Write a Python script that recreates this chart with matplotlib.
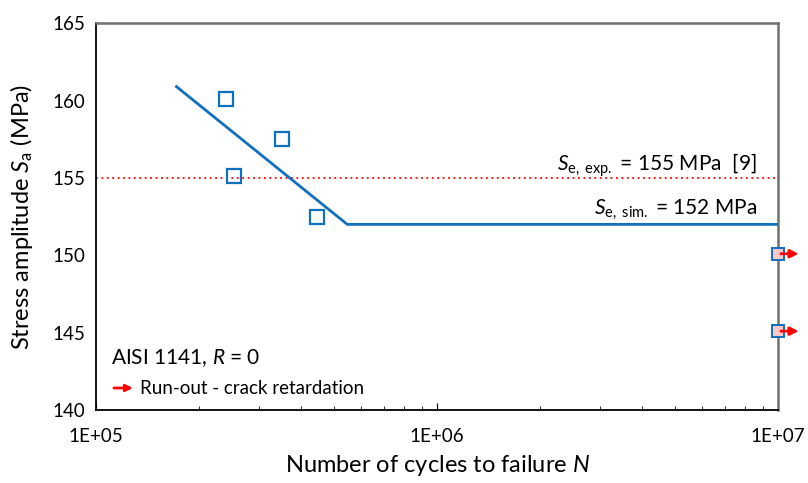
import matplotlib.pyplot as plt
import numpy as np

# experimental data points (cycles, stress amplitude)
exp_N = [2.41e5, 2.53e5, 3.50e5, 4.44e5]
exp_S = [160.1, 155.1, 157.5, 152.5]

# run-outs
runout_N = [1e7, 1e7]
runout_S = [150.1, 145.1]

# simulated S-N curve
sim_N = [1.72e5, 5.45e5, 1e7]
sim_S = [160.9, 152.0, 152.0]

S_exp = 155
S_sim = 152

blue = '#1070c0'
font_size = 13.5

plt.rcParams['font.family'] = ['Lato', 'DejaVu Sans']
plt.rcParams['mathtext.fontset'] = 'custom'
plt.rcParams['mathtext.it'] = 'Lato:italic'
plt.rcParams['mathtext.rm'] = 'Lato'

fig = plt.figure(figsize=(8.08, 4.83), dpi=100)
ax = fig.add_axes([0.119, 0.151, 0.844, 0.801])

ax.plot(sim_N, sim_S, color=blue, linewidth=2, zorder=3)
ax.axhline(S_exp, color='red', linestyle=(0, (1, 2)), linewidth=1.3, zorder=2)
ax.plot(exp_N, exp_S, linestyle='none', marker='s', markersize=10,
        markerfacecolor='none', markeredgecolor=blue, markeredgewidth=1.6, zorder=4)
ax.plot(runout_N, runout_S, linestyle='none', marker='s', markersize=9,
        markerfacecolor='#f8c8c8', markeredgecolor=blue, markeredgewidth=1.4,
        zorder=5, clip_on=False)
for n, s in zip(runout_N, runout_S):
    ax.annotate('', xy=(n * 1.17, s), xytext=(n, s),
                arrowprops=dict(arrowstyle='-|>', color='red', lw=2, mutation_scale=12),
                annotation_clip=False, zorder=6)

ax.set_xscale('log')
ax.set_xlim(1e5, 1e7)
ax.set_ylim(140, 165)
ax.set_xticks([1e5, 1e6, 1e7])
ax.set_xticklabels(['1E+05', '1E+06', '1E+07'])
ax.set_yticks(np.arange(140, 166, 5))

ax.tick_params(axis='both', which='both', direction='in', labelsize=font_size,
               top=False, right=False, colors='black')
ax.tick_params(axis='x', which='major', length=5, pad=13)
ax.tick_params(axis='x', which='minor', length=3)
ax.tick_params(axis='y', which='major', length=0, pad=8)

for side in ['top', 'right']:
    ax.spines[side].set_color('#707070')
    ax.spines[side].set_linewidth(1.8)
for side in ['left', 'bottom']:
    ax.spines[side].set_color('black')
    ax.spines[side].set_linewidth(1.3)

ax.set_xlabel('Number of cycles to failure $N$', fontsize=17, labelpad=6)
ax.set_ylabel('Stress amplitude $S_\\mathrm{a}$ (MPa)', fontsize=17, labelpad=12)

ax.text(0.969, 0.597, '$S_\\mathrm{e,\\ exp.}$ = 155 MPa  [9]', transform=ax.transAxes,
        ha='right', va='bottom', fontsize=15)
ax.text(0.969, 0.487, '$S_\\mathrm{e,\\ sim.}$ = 152 MPa', transform=ax.transAxes,
        ha='right', va='bottom', fontsize=15)

ax.text(0.022, 0.135, 'AISI 1141, $R$ = 0', transform=ax.transAxes,
        ha='left', va='center', fontsize=15)
ax.annotate('', xy=(0.058, 0.057), xytext=(0.022, 0.057), xycoords='axes fraction',
            arrowprops=dict(arrowstyle='-|>', color='red', lw=2, mutation_scale=10))
ax.text(0.064, 0.057, 'Run-out - crack retardation', transform=ax.transAxes,
        ha='left', va='center', fontsize=13.5)

fig.savefig('out.png', dpi=100)
